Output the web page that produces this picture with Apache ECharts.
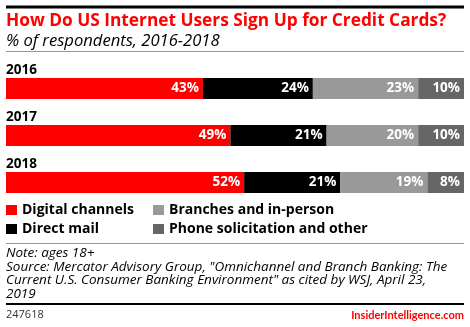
<!DOCTYPE html>
<html>
<head>
<meta charset="utf-8">
<script src="https://cdn.jsdelivr.net/npm/echarts@6/dist/echarts.min.js"></script>
<style>
  html, body { margin: 0; padding: 0; background: #fff; }
  #chart { width: 470px; height: 327px; }
</style>
</head>
<body>
<div id="chart"></div>
<script>
// Survey years (one stacked bar per year)
const years = ['2016', '2017', '2018'];

// Share of respondents by sign-up channel, %
const digitalChannels = [43, 49, 52];
const directMail = [24, 21, 21];
const branchesInPerson = [23, 20, 19];
const phoneAndOther = [10, 10, 8];

const seriesNames = ['Digital channels', 'Direct mail', 'Branches and in-person', 'Phone solicitation and other'];
const seriesColors = ['#ff0000', '#000000', '#999999', '#666666'];
const seriesValues = [digitalChannels, directMail, branchesInPerson, phoneAndOther];

const FONT = '"Open Sans"';

const chart = echarts.init(document.getElementById('chart'), null, { renderer: 'canvas' });

const series = seriesNames.map((name, i) => ({
  name: name,
  type: 'bar',
  stack: 'total',
  barWidth: 21,
  data: seriesValues[i],
  itemStyle: { color: seriesColors[i] },
  label: {
    show: true,
    position: 'insideRight',
    distance: 4,
    formatter: '{c}%',
    color: '#fff',
    fontFamily: FONT,
    fontWeight: 'bold',
    fontSize: 13.5
  },
  emphasis: { disabled: true }
}));

const legendText = { fontFamily: FONT, fontWeight: 'bold', fontSize: 14, color: '#000' };

const legendBase = {
  orient: 'vertical',
  top: 203,
  padding: 0,
  itemWidth: 11, itemHeight: 10, itemGap: 5,
  icon: 'rect',
  textStyle: legendText,
  selectedMode: false
};

chart.setOption({
  animation: false,
  grid: { left: 6, right: 6, top: 65, height: 141 },
  xAxis: {
    type: 'value', min: 0, max: 100,
    show: false
  },
  yAxis: {
    type: 'category',
    data: years,
    inverse: true,
    axisLine: { show: false },
    axisTick: { show: false },
    axisLabel: {
      inside: true,
      margin: 0,
      verticalAlign: 'bottom',
      padding: [0, 0, 11, 0],
      fontFamily: FONT,
      fontWeight: 'bold',
      fontSize: 13.5,
      color: '#000'
    }
  },
  legend: [
    Object.assign({ data: [seriesNames[0], seriesNames[1]], left: 6 }, legendBase),
    Object.assign({ data: [seriesNames[2], seriesNames[3]], left: 153 }, legendBase)
  ],
  series: series,
  graphic: [
    { type: 'rect', shape: { x: 6, y: 5.5, width: 458, height: 3 }, style: { fill: '#000' } },
    { type: 'text', x: 6, y: 21, style: { text: 'How Do US Internet Users Sign Up for Credit Cards?', fill: '#ff0000', font: 'bold 17.3px ' + FONT, verticalAlign: 'middle' } },
    { type: 'text', x: 6, y: 41, style: { text: '% of respondents, 2016-2018', fill: '#000', font: 'italic 16.6px ' + FONT, verticalAlign: 'middle' } },
    { type: 'rect', shape: { x: 6, y: 51, width: 458, height: 1 }, style: { fill: '#999' } },
    { type: 'rect', shape: { x: 6, y: 243, width: 458, height: 1 }, style: { fill: '#999' } },
    { type: 'text', x: 6, y: 253.5, style: { text: 'Note: ages 18+', fill: '#000', font: 'italic 13.5px ' + FONT, verticalAlign: 'middle' } },
    { type: 'text', x: 6, y: 267, style: { text: 'Source: Mercator Advisory Group, "Omnichannel and Branch Banking: The', fill: '#000', font: 'italic 13.5px ' + FONT, verticalAlign: 'middle' } },
    { type: 'text', x: 6, y: 280.5, style: { text: 'Current U.S. Consumer Banking Environment" as cited by WSJ, April 23,', fill: '#000', font: 'italic 13.5px ' + FONT, verticalAlign: 'middle' } },
    { type: 'text', x: 6, y: 294, style: { text: '2019', fill: '#000', font: 'italic 13.5px ' + FONT, verticalAlign: 'middle' } },
    { type: 'rect', shape: { x: 6, y: 303, width: 458, height: 2 }, style: { fill: '#000' } },
    { type: 'text', x: 6, y: 315, style: { text: '247618', fill: '#333', font: '11px ' + FONT, verticalAlign: 'middle' } },
    { type: 'text', x: 464, y: 315, style: { text: 'InsiderIntelligence.com', fill: '#ff0000', font: 'bold 11px Lato', align: 'right', verticalAlign: 'middle' } }
  ]
});
</script>
</body>
</html>
